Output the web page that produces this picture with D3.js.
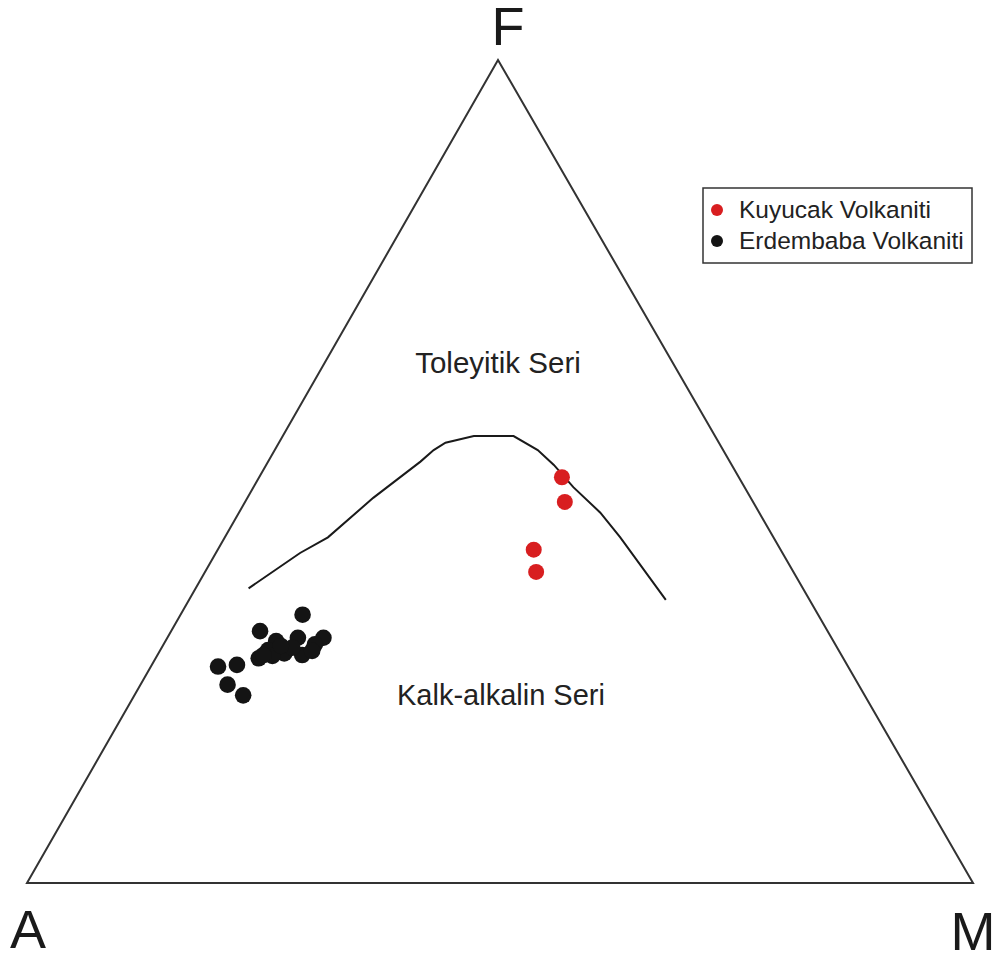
<!DOCTYPE html>
<html>
<head>
<meta charset="utf-8">
<script src="https://cdn.jsdelivr.net/npm/d3@7"></script>
<style>
  html, body { margin: 0; padding: 0; background: #fff; }
  svg { display: block; font-family: "Liberation Sans", Arial, sans-serif; }
</style>
</head>
<body>
<svg id="chart" width="999" height="956"></svg>
<script>
// AFM ternary diagram: A = Na2O+K2O, F = FeO*, M = MgO (weight %, normalised to 100)
const vertexLabels = ["A", "F", "M"];
const fieldLabels = ["Toleyitik Seri", "Kalk-alkalin Seri"];
const seriesNames = ["Kuyucak Volkaniti", "Erdembaba Volkaniti"];
const seriesColors = ["#d81e20", "#141414"];

// Tholeiitic / calc-alkaline boundary, [A, F, M]
const boundary = [
  [58.6, 35.8, 5.6],
  [51.0, 40.1, 8.9],
  [47.1, 42.0, 10.9],
  [39.9, 46.8, 13.3],
  [32.7, 51.2, 16.1],
  [30.6, 52.6, 16.8],
  [28.9, 53.5, 17.6],
  [25.5, 54.3, 20.2],
  [21.3, 54.3, 24.4],
  [19.6, 52.6, 27.8],
  [18.8, 50.8, 30.4],
  [18.1, 48.1, 33.8],
  [16.8, 45.0, 38.2],
  [16.2, 42.0, 41.8],
  [15.2, 34.4, 50.4]
];

// Kuyucak Volkaniti samples, [A, F, M]
const kuyucak = [
  [18.7, 49.3, 32.0],
  [19.9, 46.3, 33.8],
  [26.1, 40.5, 33.4],
  [27.2, 37.8, 35.0]
];

// Erdembaba Volkaniti samples, [A, F, M]
const erdembaba = [
  [54.5, 32.6, 12.9],
  [60.0, 30.6, 9.4],
  [53.7, 29.8, 16.5],
  [56.4, 29.8, 13.8],
  [58.9, 29.4, 11.7],
  [55.0, 29.0, 16.0],
  [57.0, 27.7, 15.3],
  [58.8, 27.9, 13.3],
  [60.3, 28.3, 11.4],
  [61.8, 27.3, 10.9],
  [57.6, 28.6, 13.8],
  [55.7, 28.2, 16.1],
  [60.2, 27.6, 12.2],
  [66.6, 26.3, 7.1],
  [64.5, 26.5, 9.0],
  [66.7, 24.1, 9.2],
  [65.7, 22.8, 11.5],
  [58.7, 28.8, 12.5],
  [61.1, 27.7, 11.2]
];

const svg = d3.select("#chart");

// Triangle geometry
const left = 27, right = 973, base = 883, apexY = 60, apexX = 498;

// F share sets the height; M share moves along the base; F also shifts toward the apex
const yF = d3.scaleLinear().domain([0, 100]).range([base, apexY]);
const xM = d3.scaleLinear().domain([0, 100]).range([left, right]);
const xShiftF = d3.scaleLinear().domain([0, 100]).range([0, apexX - left]);

function project(d) {
  const s = d[0] + d[1] + d[2];
  const f = d[1] / s * 100, m = d[2] / s * 100;
  return [xM(m) + xShiftF(f), yF(f)];
}

const corners = [[100, 0, 0], [0, 100, 0], [0, 0, 100]];
const line = d3.line().x(d => project(d)[0]).y(d => project(d)[1]);

// Triangle outline
svg.append("path")
  .attr("d", line(corners) + "Z")
  .attr("fill", "none")
  .attr("stroke", "#333")
  .attr("stroke-width", 2)
  .attr("stroke-linejoin", "miter");

// Vertex labels
const vPos = corners.map(project);
svg.append("text").text(vertexLabels[0])
  .attr("x", vPos[0][0] + 1).attr("y", 948)
  .attr("text-anchor", "middle").attr("font-size", 54).attr("fill", "#1a1a1a");
svg.append("text").text(vertexLabels[1])
  .attr("x", vPos[1][0] + 10).attr("y", 45)
  .attr("text-anchor", "middle").attr("font-size", 54).attr("fill", "#1a1a1a");
svg.append("text").text(vertexLabels[2])
  .attr("x", vPos[2][0]).attr("y", 950)
  .attr("text-anchor", "middle").attr("font-size", 54).attr("fill", "#1a1a1a");

// Boundary curve
svg.append("path")
  .attr("d", line(boundary))
  .attr("fill", "none")
  .attr("stroke", "#1a1a1a")
  .attr("stroke-width", 2);

// Field labels
svg.append("text").text(fieldLabels[0])
  .attr("x", 498).attr("y", 373)
  .attr("text-anchor", "middle").attr("font-size", 29.5).attr("fill", "#222");
svg.append("text").text(fieldLabels[1])
  .attr("x", 501).attr("y", 705)
  .attr("text-anchor", "middle").attr("font-size", 29).attr("fill", "#222");

// Samples
svg.append("g").selectAll("circle")
  .data(erdembaba).join("circle")
  .attr("cx", d => project(d)[0]).attr("cy", d => project(d)[1])
  .attr("r", 8.3).attr("fill", seriesColors[1]);

svg.append("g").selectAll("circle")
  .data(kuyucak).join("circle")
  .attr("cx", d => project(d)[0]).attr("cy", d => project(d)[1])
  .attr("r", 8).attr("fill", seriesColors[0]);

// Legend
const legend = svg.append("g").attr("transform", "translate(703,188)");
legend.append("rect")
  .attr("width", 269).attr("height", 75)
  .attr("fill", "#fff").attr("stroke", "#333").attr("stroke-width", 1.5);
const rows = legend.selectAll("g.row")
  .data(seriesNames).join("g")
  .attr("class", "row")
  .attr("transform", (d, i) => `translate(0,${22 + i * 31})`);
rows.append("circle")
  .attr("cx", 14).attr("cy", 0).attr("r", 6)
  .attr("fill", (d, i) => seriesColors[i]);
rows.append("text").text(d => d)
  .attr("x", 36).attr("y", 8)
  .attr("font-size", 24.5).attr("fill", "#222");
</script>
</body>
</html>
